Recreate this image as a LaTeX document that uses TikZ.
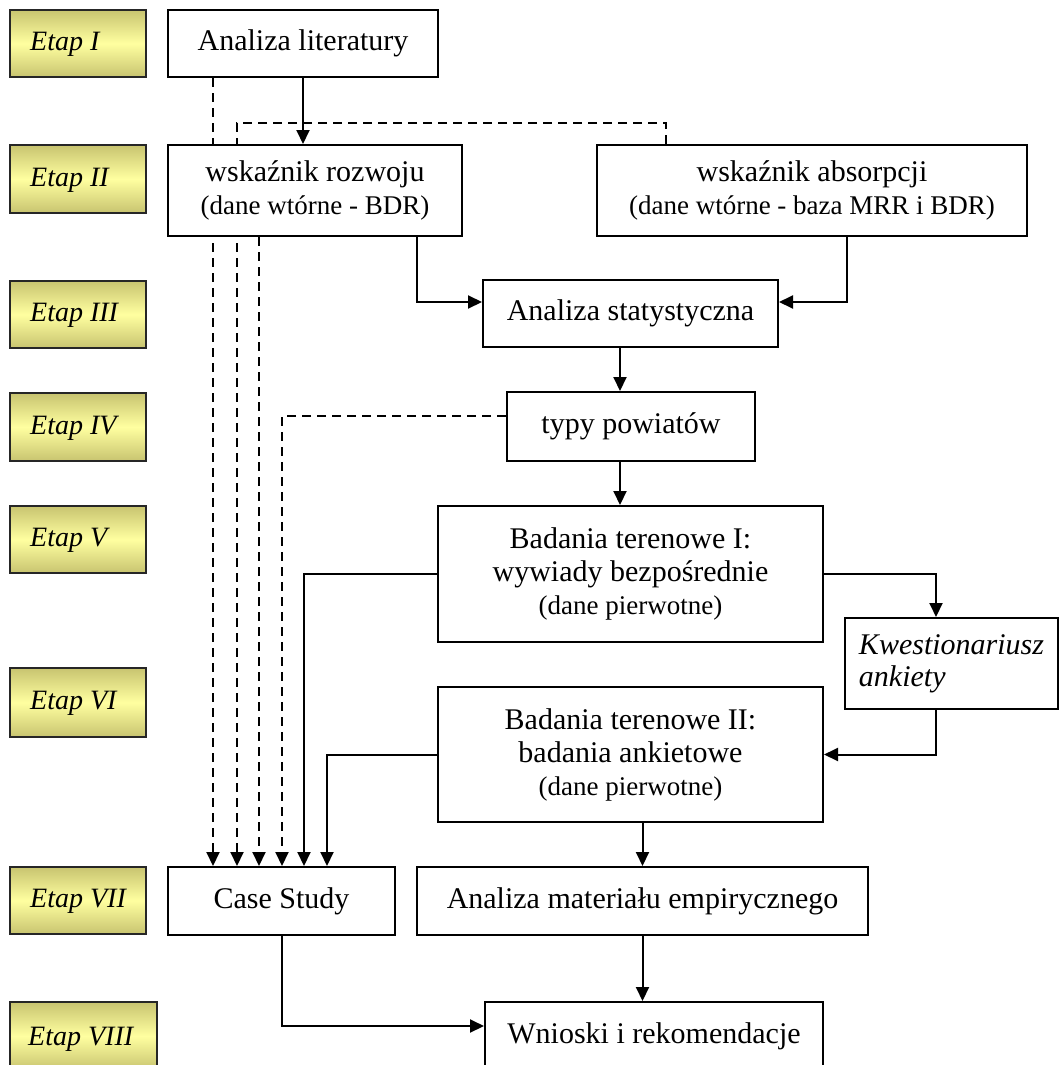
\documentclass[tikz,border=0pt]{standalone}
\usepackage{fontspec}
\setmainfont{Liberation Serif}
\usetikzlibrary{arrows.meta,calc}
\pgfdeclarelayer{background}
\pgfsetlayers{background,main}
\definecolor{goldA}{RGB}{200,196,112}
\definecolor{goldB}{RGB}{255,255,160}
\begin{document}
\begin{tikzpicture}[x=1pt,y=-1pt,
  box/.style={draw=black, line width=2pt, fill=white, inner sep=0pt, align=center, font=\fontsize{30}{33}\selectfont},
  etapbox/.style={draw=black!85, line width=2pt, top color=goldA, bottom color=goldA, middle color=goldB, inner sep=0pt},
  etaptext/.style={anchor=west, inner sep=0pt, font=\fontsize{28}{32}\selectfont\itshape},
  conn/.style={line width=2pt, -{Triangle[length=14pt,width=13pt]}},
  dconn/.style={conn, dash pattern=on 9pt off 6pt}
]
\useasboundingbox (0,0) rectangle (1060,1065);

% Etap column
\node[etapbox, minimum width=136, minimum height=67] (e1) at (78,43.5) {};
\node[etapbox, minimum width=136, minimum height=68] (e2) at (78,179) {};
\node[etapbox, minimum width=136, minimum height=67] (e3) at (78,314.5) {};
\node[etapbox, minimum width=136, minimum height=68] (e4) at (78,427) {};
\node[etapbox, minimum width=136, minimum height=67] (e5) at (78,539.5) {};
\node[etapbox, minimum width=136, minimum height=69] (e6) at (78,702.5) {};
\node[etapbox, minimum width=136, minimum height=67] (e7) at (78,900.5) {};
\node[etapbox, minimum width=147, minimum height=68] (e8) at (83.5,1036) {};
\node[etaptext] (t1) at (30,44.5) {Etap I};
\node[etaptext] (t2) at (30,180) {Etap II};
\node[etaptext] (t3) at (30,315.5) {Etap III};
\node[etaptext] (t4) at (30,428) {Etap IV};
\node[etaptext] (t5) at (30,540.5) {Etap V};
\node[etaptext] (t6) at (30,703.5) {Etap VI};
\node[etaptext] (t7) at (30,901.5) {Etap VII};
\node[etaptext] (t8) at (28,1039) {Etap VIII};

% main boxes
\node[box, minimum width=270, minimum height=67] (lit) at (303,43.5) {Analiza literatury};
\node[box, minimum width=294, minimum height=91] (roz) at (315,190.5) {wskaźnik rozwoju\\{\fontsize{27}{33}\selectfont (dane wtórne - BDR)}};
\node[box, minimum width=430, minimum height=91] (abs) at (812,190.5) {wskaźnik absorpcji\\{\fontsize{27}{33}\selectfont (dane wtórne - baza MRR i BDR)}};
\node[box, minimum width=295, minimum height=67] (stat) at (630.5,313.5) {Analiza statystyczna};
\node[box, minimum width=248, minimum height=69] (typy) at (631,426.5) {typy powiatów};
\node[box, minimum width=385, minimum height=136] (b1) at (630.5,574) {Badania terenowe I:\\wywiady bezpośrednie\\{\fontsize{27}{33}\selectfont (dane pierwotne)}};
\node[box, minimum width=213, minimum height=91, align=left, font=\fontsize{30}{32}\selectfont\itshape] (kw) at (951.5,663.5) {Kwestionariusz\\ankiety};
\node[box, minimum width=385, minimum height=135] (b2) at (630.5,754.5) {Badania terenowe II:\\badania ankietowe\\{\fontsize{27}{33}\selectfont (dane pierwotne)}};
\node[box, minimum width=227, minimum height=68] (case) at (281.5,901) {Case Study};
\node[box, minimum width=451, minimum height=68] (mat) at (642.5,901) {Analiza materiału empirycznego};
\node[box, minimum width=338, minimum height=68] (wn) at (654,1036) {Wnioski i rekomendacje};

% helper coordinates
\coordinate (xA) at (213,0);
\coordinate (xB) at (237,0);
\coordinate (xC) at (259,0);
\coordinate (xD) at (282,0);
\coordinate (xE) at (304,0);
\coordinate (xF) at (327,0);
\coordinate (hy) at (0,123);
\coordinate (absx) at (666,0);
\coordinate (rozx) at (417,0);
\coordinate (absbx) at (847,0);
\coordinate (sy) at (0,302);
\coordinate (ty) at (0,416);
\coordinate (ax) at (620,0);
\coordinate (kx) at (936,0);
\coordinate (wy) at (0,1026);

\begin{pgfonlayer}{background}
\draw[conn] (lit.south) -- (lit.south |- roz.north);
\draw[dconn] (lit.south -| xA) -- (case.north -| xA);
\draw[dconn] (abs.north -| absx) -- (absx |- hy) -| (case.north -| xB);
\draw[dconn] (roz.south -| xC) -- (case.north -| xC);
\draw[dconn] (typy.west |- ty) -| (case.north -| xD);
\draw[conn] (b1.west) -| (case.north -| xE);
\draw[conn] (b2.west) -| (case.north -| xF);
\draw[conn] (roz.south -| rozx) |- (stat.west |- sy);
\draw[conn] (abs.south -| absbx) |- (stat.east |- sy);
\draw[conn] (stat.south -| ax) -- (typy.north -| ax);
\draw[conn] (typy.south -| ax) -- (b1.north -| ax);
\draw[conn] (b1.east) -| (kw.north -| kx);
\draw[conn] (kw.south -| kx) |- (b2.east);
\draw[conn] (b2.south -| mat.north) -- (mat.north);
\draw[conn] (mat.south) -- (mat.south |- wn.north);
\draw[conn] (case.south) |- (wn.west |- wy);
\end{pgfonlayer}
\end{tikzpicture}
\end{document}
